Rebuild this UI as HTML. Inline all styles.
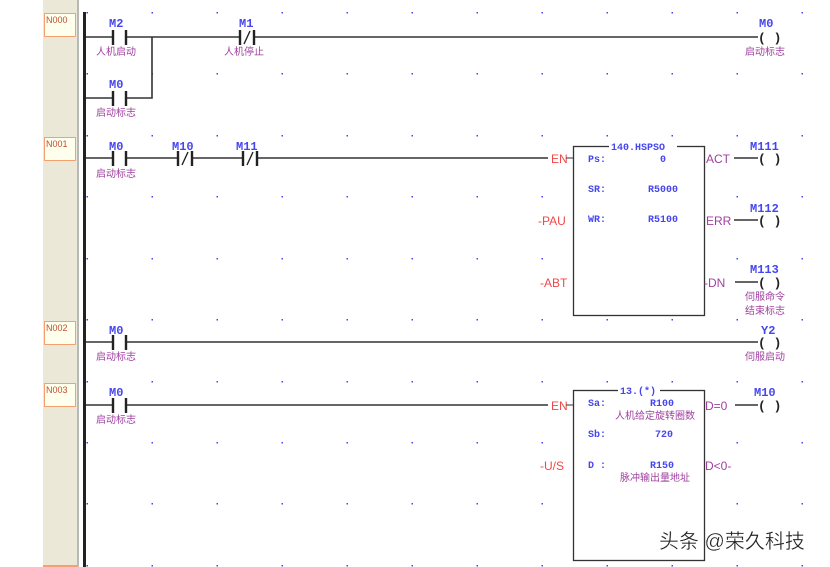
<!DOCTYPE html>
<html><head><meta charset="utf-8"><style>
html,body{margin:0;padding:0;background:#fff;width:830px;height:567px;overflow:hidden}
svg{display:block}
.b{font-family:"Liberation Mono","DejaVu Sans Mono",monospace;font-weight:bold;fill:#4646f0;font-size:12px}
.s{font-family:"Liberation Mono",monospace;fill:#4646f0;font-size:10px;font-weight:bold}
.c{font-family:"Liberation Sans","Noto Sans CJK SC",sans-serif;fill:#a040a0;font-size:10px}
.r{font-family:"Liberation Sans",sans-serif;fill:#f04848;font-size:12px}
.p{font-family:"Liberation Sans",sans-serif;fill:#a040a0;font-size:12px}
.n{font-family:"Liberation Sans",sans-serif;fill:#c05030;font-size:9px}
</style></head><body>
<svg width="830" height="567" viewBox="0 0 830 567">
<rect x="43" y="0" width="34" height="567" fill="#ece8d8"/>
<rect x="77" y="0" width="2" height="567" fill="#b8b8b8"/>
<rect x="43" y="565" width="34" height="2" fill="#f4a070"/>
<g fill="#ffffee" stroke="#f4a070" stroke-width="1">
<rect x="44.5" y="13.5" width="31" height="23"/>
<rect x="44.5" y="137.5" width="31" height="23"/>
<rect x="44.5" y="321.5" width="31" height="23"/>
<rect x="44.5" y="383.5" width="31" height="23"/>
</g>
<text class="n" x="46" y="23">N000</text>
<text class="n" x="46" y="147">N001</text>
<text class="n" x="46" y="331">N002</text>
<text class="n" x="46" y="393">N003</text>
<rect x="83" y="12" width="3" height="555" fill="#222"/>
<g id="dots" fill="#4646f0"></g>
<g stroke="#333" stroke-width="1.6" fill="none">
<path d="M86 37H112M127 37H239M255 37H758"/>
<path d="M152 37V98H127M86 98H112"/>
<path d="M86 158H112M127 158H177M193 158H242M258 158H548"/>
<path d="M734 158H758M734 220H758M735 282H758"/>
<path d="M86 342H112M127 342H758"/>
<path d="M86 405H112M127 405H548M735 405H758"/>
</g>
<g stroke="#222" stroke-width="2.4">
<path d="M113 30V45M126 30V45M240 30V45M254 30V45M113 91V106M126 91V106"/>
<path d="M113 151V166M126 151V166M178 151V166M192 151V166M243 151V166M257 151V166"/>
<path d="M113 335V350M126 335V350M113 398V413M126 398V413"/>
</g>
<g stroke="#222" stroke-width="1.4"><path d="M244 44L250 31M182 165L188 152M247 165L253 152"/></g>
<g font-family="Liberation Mono,monospace" font-weight="bold" font-size="13" fill="#222">
<text x="758" y="42">(&#160;)</text><text x="758" y="163">(&#160;)</text><text x="758" y="225">(&#160;)</text><text x="758" y="287">(&#160;)</text><text x="758" y="347">(&#160;)</text><text x="758" y="410">(&#160;)</text>
</g>
<text class="b" x="109" y="27">M2</text><text class="c" x="96" y="55">人机启动</text>
<text class="b" x="239" y="27">M1</text><text class="c" x="224" y="55">人机停止</text>
<text class="b" x="109" y="88">M0</text><text class="c" x="96" y="116">启动标志</text>
<text class="b" x="759" y="27">M0</text><text class="c" x="745" y="55">启动标志</text>
<text class="b" x="109" y="150">M0</text><text class="c" x="96" y="177">启动标志</text>
<text class="b" x="172" y="150">M10</text><text class="b" x="236" y="150">M11</text>
<rect x="573.5" y="146.5" width="131" height="169" fill="#fff" stroke="#333" stroke-width="1.3"/>
<rect x="609" y="140" width="68" height="12" fill="#fff"/>
<text class="s" x="611" y="150">140.HSPSO</text>
<text class="r" x="551" y="163">EN</text><path d="M566 158H573" stroke="#333"/>
<text class="r" x="538" y="225">-PAU</text><text class="r" x="540" y="287">-ABT</text>
<text class="s" x="588" y="162">Ps:</text><text class="s" x="660" y="162">0</text>
<text class="s" x="588" y="192">SR:</text><text class="s" x="648" y="192">R5000</text>
<text class="s" x="588" y="222">WR:</text><text class="s" x="648" y="222">R5100</text>
<text class="p" x="706" y="163">ACT</text><text class="p" x="706" y="225">ERR</text>
<text class="p" x="704" y="287">-DN</text>
<text class="b" x="750" y="150">M111</text><text class="b" x="750" y="212">M112</text><text class="b" x="750" y="273">M113</text>
<text class="c" x="745" y="300">伺服命令</text><text class="c" x="745" y="314">结束标志</text>
<text class="b" x="109" y="334">M0</text><text class="c" x="96" y="360">启动标志</text>
<text class="b" x="761" y="334">Y2</text><text class="c" x="745" y="360">伺服启动</text>
<text class="b" x="109" y="396">M0</text><text class="c" x="96" y="423">启动标志</text>
<rect x="573.5" y="390.5" width="131" height="170" fill="#fff" stroke="#333" stroke-width="1.3"/>
<rect x="618" y="384" width="42" height="12" fill="#fff"/>
<text class="s" x="620" y="394">13.(*)</text>
<text class="r" x="551" y="410">EN</text><path d="M566 405H573" stroke="#333"/>
<text class="r" x="540" y="470">-U/S</text>
<text class="s" x="588" y="406">Sa:</text><text class="s" x="650" y="406">R100</text>
<text class="c" x="615" y="419">人机给定旋转圈数</text>
<text class="s" x="588" y="437">Sb:</text><text class="s" x="655" y="437">720</text>
<text class="s" x="588" y="468">D :</text><text class="s" x="650" y="468">R150</text>
<text class="c" x="620" y="481">脉冲输出量地址</text>
<text class="p" x="705" y="410">D=0</text><text class="p" x="705" y="470">D&lt;0-</text>
<text class="b" x="754" y="396">M10</text>
<text x="659" y="548" font-family="Liberation Sans,Noto Sans CJK SC,sans-serif" font-size="20" fill="#222" stroke="#fff" stroke-width="0.3">头条 @荣久科技</text>
</svg>
<script>
var g=document.getElementById('dots'),s='';
var ys=[13,74,136,197,259,320,382,443,504,566];
for(var x=87;x<830;x+=65)for(var i=0;i<ys.length;i++)s+='<rect x="'+(x-0.5)+'" y="'+(ys[i]-1)+'" width="1.5" height="1.5"/>';
g.innerHTML=s;
</script>
</body></html>
